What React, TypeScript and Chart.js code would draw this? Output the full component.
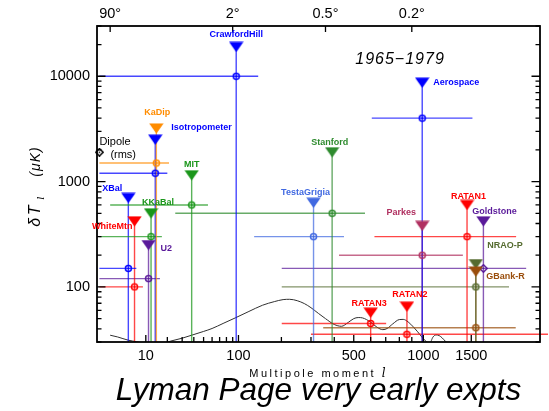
import React, { useEffect, useRef } from 'react';
import { Chart, registerables, LinearScale } from 'chart.js';

Chart.register(...registerables);

// ---------- axis ranges and ticks ----------
const X_MIN = 0.84;
const X_MAX = 2490;
const Y_MIN = 30;
const Y_MAX = 30000;
const ELL_EXPONENT = 0.3; // multipole axis is linear in l^0.3

const X_LABELLED_TICKS = [10, 100, 500, 1000, 1500];
const X_MINOR_TICKS = [20, 30, 40, 50, 60, 70, 80, 90, 200, 300, 400, 600, 700, 800, 900];
const Y_LABELLED_TICKS = [100, 1000, 10000];
const ANGLE_TICKS_DEG = [90, 2, 0.5, 0.2];
const ANGLE_TICK_TEXT = ['90°', '2°', '0.5°', '0.2°'];

// ---------- experiments (l in multipoles, dT in microkelvin) ----------
const EXPERIMENTS = [
  'CrawfordHill', 'Aerospace', 'KaDip', 'Isotropometer', 'MIT', 'KKaBal', 'XBal', 'WhiteMtn', 'U2',
  'Stanford', 'TestaGrigia', 'Parkes', 'RATAN1', 'Goldstone', 'NRAO-P', 'GBank-R', 'RATAN3', 'RATAN2',
];
const ELL_CENTRE = [96, 990, 14.3, 13.8, 38, 12, 5, 6.5, 11, 390, 310, 990, 1450, 1650, 1555, 1555, 600, 860];
const ELL_LOW = [1, 607, 1, 1, 2, 1, 1, 1, 1, 25, 131, 423, 624, 201, 201, 350, 201, 300];
const ELL_HIGH = [140, 1514, 21, 20, 55, 17, 7, 9, 16, 565, 448, 1402, 2106, 2262, 2000, 2100, 703, 2640];
const DT_VALUE = [10000, 4000, 1500, 1200, 600, 300, 150, 100, 120, 500, 300, 200, 300, 150, 100, 41, 45, 35.5];
const DT_LIMIT = [19000, 8700, 3200, 2500, 1150, 500, 700, 420, 250, 1900, 630, 380, 600, 420, 165, 140, 57, 65];

const DIPOLE_ELL = 1;
const DIPOLE_DT = 1900;

// ---------- model power spectrum ----------
const MODEL_ELL = [
  2, 3, 5, 7, 10, 14, 18, 22, 30, 38, 50, 60, 75, 95, 120, 150, 180, 205, 225, 250, 275, 300, 330, 360,
  400, 435, 470, 500, 525, 550, 600, 640, 680, 710, 750, 800, 830, 870, 913, 950, 986, 1030, 1058, 1090,
  1120, 1150, 1180, 1215, 1250, 1320, 1420,
];
const MODEL_DT = [
  34.8, 33.5, 31.2, 30.2, 28.8, 28.3, 29.2, 30.6, 32.6, 34.8, 37.8, 40.3, 45, 51, 58.5, 67, 72.5, 75.8, 76.3,
  74, 69.5, 63.5, 56, 50, 44, 42.3, 46, 50, 51.2, 50.8, 46.3, 41.5, 39.3, 40.3, 44.5, 49, 49.2, 46.5, 41.7,
  37.5, 33.5, 30.1, 29.2, 33.5, 35, 34.5, 32.8, 30.3, 28.5, 26, 23,
];

// ---------- styling ----------
const EXPERIMENT_COLORS = [
  '#0000ff', '#0000ff', '#ff8c00', '#0000ff', '#1a961a', '#1a961a', '#0000ff', '#ff0000', '#5a1a9a',
  '#2e8b2e', '#4169e1', '#b03060', '#ff0000', '#5a1a9a', '#556b2f', '#9a4e0c', '#ff0000', '#ff0000',
];
const MARKER_SHAPES = [
  'ring', 'ring', 'ring', 'ring', 'ring', 'ring', 'ring', 'ring', 'ring',
  'ring', 'ring', 'ring', 'ring', 'diamond', 'ring', 'ring', 'ring', 'ring',
];
// label offset from the upper-limit triangle: [dx, dy, align]
const LABEL_PLACEMENT: [number, number, CanvasTextAlign][] = [
  [0, -12, 'center'], [11, 0, 'left'], [1, -15.5, 'center'], [16, -12, 'left'], [0, -11, 'center'],
  [7, -10.5, 'center'], [-16, -9.5, 'center'], [-2, 5, 'right'], [12, 4, 'left'], [-2.5, -9.5, 'center'],
  [-8, -10.5, 'center'], [-21, -13, 'center'], [1.5, -8.5, 'center'], [11, -10, 'center'], [11.5, -18, 'left'],
  [10.5, 4.5, 'left'], [-1.5, -9.5, 'center'], [3, -12.5, 'center'],
];

const SANS = '"Liberation Sans", Arial, Helvetica, sans-serif';
const TICK_FONT = { family: SANS, size: 14.5 };

class PowerScale extends LinearScale {
  static id = 'power';
  static defaults = LinearScale.defaults;
  _pMin = 0;
  _pMax = 1;
  configure() {
    super.configure();
    this._pMin = Math.pow(this.min, ELL_EXPONENT);
    this._pMax = Math.pow(this.max, ELL_EXPONENT);
  }
  getPixelForValue(value: number) {
    const v = Math.pow(Math.max(value, 0), ELL_EXPONENT);
    return this.getPixelForDecimal((v - this._pMin) / (this._pMax - this._pMin));
  }
  getValueForPixel(pixel: number) {
    const d = this.getDecimalForPixel(pixel);
    return Math.pow(this._pMin + d * (this._pMax - this._pMin), 1 / ELL_EXPONENT);
  }
}
Chart.register(PowerScale as any);

function withAlpha(hex: string, a: number) {
  const n = parseInt(hex.slice(1), 16);
  return `rgba(${n >> 16},${(n >> 8) & 255},${n & 255},${a})`;
}

function triangleMarker(color: string) {
  const c = document.createElement('canvas');
  c.width = 15;
  c.height = 11;
  const g = c.getContext('2d')!;
  g.fillStyle = color;
  g.beginPath();
  g.moveTo(0.3, 0.5);
  g.lineTo(14.7, 0.5);
  g.lineTo(7.5, 10.8);
  g.closePath();
  g.fill();
  return c;
}

function ringMarker(color: string) {
  const c = document.createElement('canvas');
  c.width = 9;
  c.height = 9;
  const g = c.getContext('2d')!;
  g.strokeStyle = color;
  g.lineWidth = 1.5;
  g.beginPath();
  g.arc(4.5, 4.5, 3, 0, Math.PI * 2);
  g.stroke();
  g.fillStyle = color;
  g.beginPath();
  g.arc(4.5, 4.5, 1, 0, Math.PI * 2);
  g.fill();
  return c;
}

function diamondMarker(color: string) {
  const c = document.createElement('canvas');
  c.width = 9;
  c.height = 9;
  const g = c.getContext('2d')!;
  g.strokeStyle = color;
  g.lineWidth = 1.5;
  g.beginPath();
  g.moveTo(4.5, 0.8);
  g.lineTo(8.2, 4.5);
  g.lineTo(4.5, 8.2);
  g.lineTo(0.8, 4.5);
  g.closePath();
  g.stroke();
  g.fillStyle = color;
  g.fillRect(3.8, 3.8, 1.4, 1.4);
  return c;
}

function buildDatasets() {
  const ds: any[] = [];
  ds.push({
    label: 'model',
    data: MODEL_ELL.map((l, i) => ({ x: l, y: MODEL_DT[i] })),
    borderColor: '#303030',
    borderWidth: 1,
    pointRadius: 0,
    cubicInterpolationMode: 'monotone',
    order: 600,
  });
  EXPERIMENTS.forEach((name, i) => {
    const color = EXPERIMENT_COLORS[i];
    const lineColor = withAlpha(color, 0.72);
    ds.push({
      label: name + ' window',
      data: [{ x: ELL_LOW[i], y: DT_VALUE[i] }, { x: ELL_HIGH[i], y: DT_VALUE[i] }],
      borderColor: lineColor,
      borderWidth: 1.4,
      pointRadius: 0,
      clip: { left: 1, top: 1, right: 8, bottom: 1 },
      order: 500,
    });
    ds.push({
      label: name + ' drop',
      data: [{ x: ELL_CENTRE[i], y: DT_LIMIT[i] }, { x: ELL_CENTRE[i], y: Y_MIN }],
      borderColor: lineColor,
      borderWidth: 1.4,
      pointRadius: 0,
      order: 500,
    });
    ds.push({
      label: name,
      data: [{ x: ELL_CENTRE[i], y: DT_VALUE[i] }],
      showLine: false,
      pointStyle: MARKER_SHAPES[i] === 'diamond' ? diamondMarker(color) : ringMarker(color),
      pointRadius: 5,
      order: 300 - i,
    });
    ds.push({
      label: name + ' limit',
      data: [{ x: ELL_CENTRE[i], y: DT_LIMIT[i] }],
      showLine: false,
      pointStyle: triangleMarker(color),
      pointRadius: 7,
      order: 100 - i,
    });
  });
  ds.push({
    label: 'Dipole',
    data: [{ x: DIPOLE_ELL, y: DIPOLE_DT }],
    showLine: false,
    pointStyle: diamondMarker('#000000'),
    pointRadius: 5,
    clip: false,
    order: 250,
  });
  return ds;
}

const decorations = {
  id: 'decorations',
  afterDatasetsDraw(chart: any) {
    const { ctx, chartArea: a } = chart;
    const xs = chart.scales.x;
    const ys = chart.scales.y;
    ctx.save();

    // frame
    ctx.strokeStyle = '#000';
    ctx.lineWidth = 1.8;
    ctx.strokeRect(a.left, a.top, a.right - a.left, a.bottom - a.top);

    // inward tick marks
    ctx.lineWidth = 1.3;
    ctx.beginPath();
    const bottomTick = (v: number, len: number) => {
      const p = xs.getPixelForValue(v);
      ctx.moveTo(p, a.bottom);
      ctx.lineTo(p, a.bottom - len);
    };
    X_LABELLED_TICKS.forEach((v) => bottomTick(v, 7));
    X_MINOR_TICKS.forEach((v) => bottomTick(v, 5));
    ANGLE_TICKS_DEG.forEach((d) => {
      const p = xs.getPixelForValue(180 / d);
      ctx.moveTo(p, a.top);
      ctx.lineTo(p, a.top + 6);
    });
    for (let dec = 10; dec <= 10000; dec *= 10) {
      for (let k = 1; k <= 9; k++) {
        const v = k * dec;
        if (v < Y_MIN || v > Y_MAX) continue;
        const p = ys.getPixelForValue(v);
        const len = k === 1 ? 8.5 : 4.5;
        ctx.moveTo(a.left, p);
        ctx.lineTo(a.left + len, p);
        ctx.moveTo(a.right, p);
        ctx.lineTo(a.right - len, p);
      }
    }
    ctx.stroke();

    // experiment names next to their upper limits
    ctx.font = `bold 9px ${SANS}`;
    ctx.textBaseline = 'middle';
    EXPERIMENTS.forEach((name, i) => {
      const [dx, dy, align] = LABEL_PLACEMENT[i];
      const px = xs.getPixelForValue(ELL_CENTRE[i]);
      const py = ys.getPixelForValue(DT_LIMIT[i]);
      ctx.fillStyle = EXPERIMENT_COLORS[i];
      ctx.textAlign = align;
      ctx.fillText(name, px + dx, py + dy);
    });

    // dipole annotation
    const dx0 = xs.getPixelForValue(DIPOLE_ELL);
    const dy0 = ys.getPixelForValue(DIPOLE_DT);
    ctx.fillStyle = '#000';
    ctx.font = `11px ${SANS}`;
    ctx.textAlign = 'left';
    ctx.fillText('Dipole', dx0, dy0 - 10);
    ctx.fillText('(rms)', dx0 + 11, dy0 + 2.5);

    // era
    ctx.font = `italic 16px ${SANS}`;
    (ctx as any).letterSpacing = '1px';
    ctx.textAlign = 'center';
    ctx.fillText('1965\u22121979', a.left + 0.684 * (a.right - a.left), a.top + 0.1076 * (a.bottom - a.top));

    // x-axis title
    const midX = (a.left + a.right) / 2;
    ctx.textBaseline = 'alphabetic';
    ctx.font = `11px ${SANS}`;
    (ctx as any).letterSpacing = '2.5px';
    ctx.textAlign = 'left';
    const xt = 'Multipole moment ';
    const xtW = ctx.measureText(xt).width;
    const startX = midX - (xtW + 6) / 2;
    ctx.fillText(xt, startX, a.bottom + 35);
    ctx.font = `italic 12px "DejaVu Serif", serif`;
    (ctx as any).letterSpacing = '0px';
    ctx.fillText('l', startX + xtW, a.bottom + 35);

    // y-axis title (rotated)
    const midY = (a.top + a.bottom) / 2;
    ctx.save();
    ctx.translate(a.left - 57, midY + 42.7);
    ctx.rotate(-Math.PI / 2);
    ctx.textAlign = 'left';
    ctx.font = `italic 16px ${SANS}`;
    (ctx as any).letterSpacing = '2.5px';
    ctx.fillText('\u03b4T', 0, 0);
    ctx.font = `italic 10px "DejaVu Serif", serif`;
    (ctx as any).letterSpacing = '0px';
    ctx.fillText('l', 27, 3.5);
    ctx.font = `italic 14px ${SANS}`;
    (ctx as any).letterSpacing = '1px';
    ctx.fillText('(\u03bcK)', 50, 0);
    ctx.restore();

    // main caption
    ctx.font = `italic 31.5px ${SANS}`;
    (ctx as any).letterSpacing = '0px';
    ctx.textAlign = 'center';
    ctx.fillText('Lyman Page very early expts', midX, chart.height - 11);

    ctx.restore();
  },
};

export default function App() {
  const ref = useRef<HTMLCanvasElement>(null);
  useEffect(() => {
    const canvas = ref.current;
    if (!canvas) return;
    const hidden = { display: false, drawTicks: false };
    const chart = new Chart(canvas, {
      type: 'line',
      data: { datasets: buildDatasets() },
      options: {
        animation: false,
        responsive: true,
        maintainAspectRatio: false,
        events: [],
        layout: { padding: 0 },
        plugins: { legend: { display: false }, tooltip: { enabled: false }, title: { display: false } },
        scales: {
          x: {
            type: 'power' as any,
            position: 'bottom',
            min: X_MIN,
            max: X_MAX,
            grid: hidden,
            border: { display: false },
            afterBuildTicks: (s: any) => {
              s.ticks = X_LABELLED_TICKS.map((v) => ({ value: v }));
            },
            afterFit: (s: any) => {
              s.height = 69;
            },
            ticks: {
              autoSkip: false,
              maxRotation: 0,
              padding: 5,
              color: '#000',
              font: TICK_FONT,
              callback: (v: any) => String(v),
            },
          },
          xTop: {
            type: 'power' as any,
            position: 'top',
            min: X_MIN,
            max: X_MAX,
            grid: hidden,
            border: { display: false },
            afterBuildTicks: (s: any) => {
              s.ticks = ANGLE_TICKS_DEG.map((d) => ({ value: 180 / d }));
            },
            afterFit: (s: any) => {
              s.height = 26;
            },
            ticks: {
              autoSkip: false,
              maxRotation: 0,
              padding: 3,
              color: '#000',
              font: TICK_FONT,
              callback: (_v: any, i: number) => ANGLE_TICK_TEXT[i],
            },
          },
          y: {
            type: 'logarithmic',
            position: 'left',
            min: Y_MIN,
            max: Y_MAX,
            grid: hidden,
            border: { display: false },
            afterBuildTicks: (s: any) => {
              s.ticks = Y_LABELLED_TICKS.map((v) => ({ value: v }));
            },
            afterFit: (s: any) => {
              s.width = 97;
            },
            ticks: { padding: 7, color: '#000', font: TICK_FONT, callback: (v: any) => String(v) },
          },
          yRight: {
            type: 'logarithmic',
            position: 'right',
            min: Y_MIN,
            max: Y_MAX,
            grid: hidden,
            border: { display: false },
            ticks: { display: false },
            afterFit: (s: any) => {
              s.width = 9;
            },
          },
        },
      } as any,
      plugins: [decorations],
    });
    return () => chart.destroy();
  }, []);
  return (
    <div style={{ position: 'fixed', left: 0, top: 0, width: 549, height: 411, background: '#fff' }}>
      <canvas ref={ref} />
    </div>
  );
}
